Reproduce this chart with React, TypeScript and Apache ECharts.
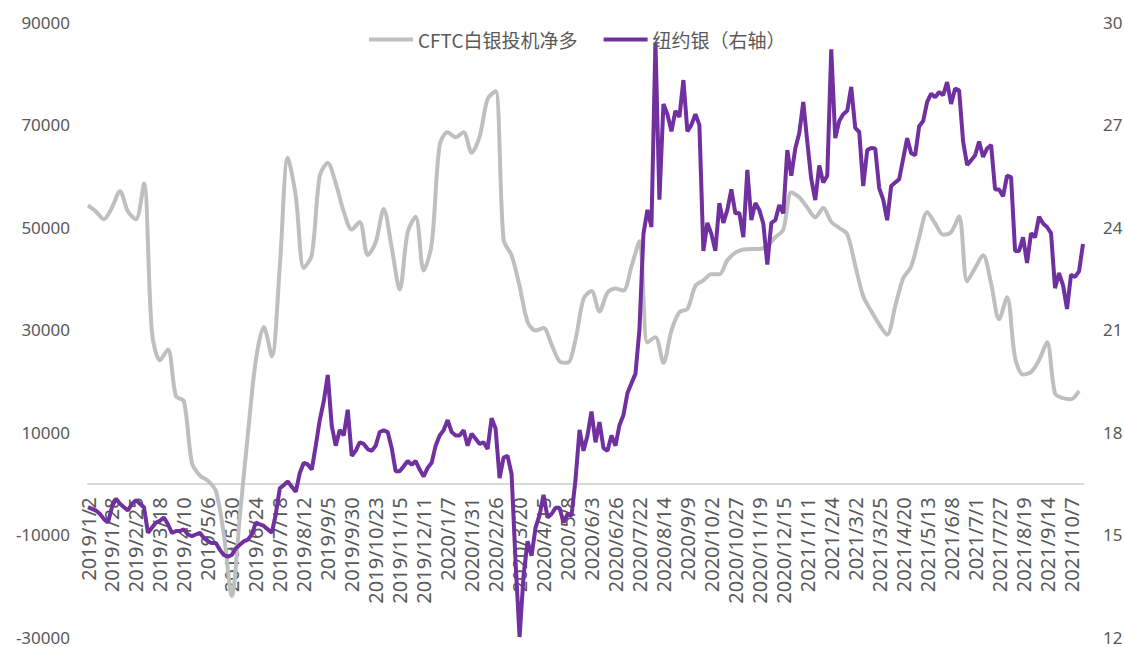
import React, { useEffect, useRef } from "react";
import * as echarts from "echarts";

const tickLabels = [
  "2019/1/2", "2019/1/28", "2019/2/25", "2019/3/18", "2019/4/10", "2019/5/6", "2019/5/30",
  "2019/6/24", "2019/7/18", "2019/8/12", "2019/9/5", "2019/9/30", "2019/10/23", "2019/11/15",
  "2019/12/11", "2020/1/7", "2020/1/31", "2020/2/26", "2020/3/20", "2020/4/15", "2020/5/8",
  "2020/6/3", "2020/6/26", "2020/7/22", "2020/8/14", "2020/9/9", "2020/10/2", "2020/10/27",
  "2020/11/19", "2020/12/15", "2021/1/11", "2021/2/4", "2021/3/2", "2021/3/25", "2021/4/20",
  "2021/5/13", "2021/6/8", "2021/7/1", "2021/7/27", "2021/8/19", "2021/9/14", "2021/10/7",
];

// points between two labelled dates (sampling step of the category axis)
const STEP = 6;
const POINTS = 250;

// 纽约银 (right axis), sampled at every category
const silver = [
  15.8, 15.75, 15.7, 15.6, 15.45, 15.35, 15.8, 16.05, 15.9, 15.8,
  15.7, 15.9, 16.0, 15.9, 15.8, 15.05, 15.2, 15.35, 15.4, 15.5,
  15.3, 15.05, 15.1, 15.1, 15.15, 15.0, 14.95, 15.0, 15.05, 14.9,
  14.8, 14.75, 14.75, 14.55, 14.4, 14.35, 14.4, 14.6, 14.7, 14.8,
  14.85, 15.0, 15.35, 15.3, 15.25, 15.15, 15.05, 15.6, 16.35, 16.45,
  16.55, 16.4, 16.25, 16.8, 17.1, 17.05, 16.9, 17.6, 18.35, 18.9,
  19.67, 18.18, 17.6, 18.06, 17.9, 18.65, 17.3, 17.45, 17.7, 17.65,
  17.5, 17.45, 17.6, 18.0, 18.05, 18.0, 17.53, 16.85, 16.85, 17.0,
  17.15, 17.04, 17.15, 16.9, 16.7, 16.95, 17.1, 17.6, 17.9, 18.05,
  18.35, 18.0, 17.9, 17.9, 18.05, 17.6, 17.95, 17.8, 17.65, 17.7,
  17.5, 18.4, 18.1, 16.65, 17.25, 17.3, 16.77, 14.2, 12.0, 13.8,
  14.8, 14.38, 15.2, 15.57, 16.16, 15.5, 15.6, 15.78, 15.78, 15.35,
  15.6, 15.55, 16.6, 18.06, 17.45, 17.9, 18.6, 17.7, 18.29, 17.53,
  17.45, 17.9, 17.6, 18.2, 18.5, 19.14, 19.43, 19.7, 21.0, 23.8,
  24.5, 24.0, 29.4, 24.8, 27.6, 27.3, 26.8, 27.4, 27.22, 28.3,
  26.8, 26.99, 27.3, 26.99, 23.3, 24.12, 23.8, 23.3, 24.7, 24.12,
  24.5, 25.1, 24.4, 24.41, 23.7, 25.67, 24.2, 24.7, 24.5, 24.1,
  22.9, 24.12, 24.2, 24.64, 24.4, 26.25, 25.5, 26.3, 26.75, 27.66,
  26.5, 25.4, 24.79, 25.8, 25.3, 25.5, 29.2, 26.6, 27.1, 27.3,
  27.4, 28.1, 26.9, 26.78, 25.2, 26.25, 26.31, 26.3, 25.14, 24.8,
  24.2, 25.2, 25.3, 25.4, 26.0, 26.6, 26.16, 26.1, 26.95, 27.1,
  27.66, 27.9, 27.8, 27.95, 27.86, 28.24, 27.6, 28.05, 28.0, 26.5,
  25.82, 25.95, 26.1, 26.5, 26.05, 26.3, 26.4, 25.1, 25.1, 24.9,
  25.5, 25.46, 23.3, 23.3, 23.7, 22.95, 23.82, 23.7, 24.3, 24.1,
  24.0, 23.82, 22.21, 22.65, 22.3, 21.6, 22.6, 22.54, 22.7, 23.5,
];

// CFTC白银投机净多 (left axis), weekly: one value every second category
const cftc = [
  54200, 53000, 51500, 53800, 57000, 53000, 51500, 58500, 29500, 24000,
  26100, 17000, 16000, 4000, 1500, 500, -1500, -10000, -22000, -6400,
  9500, 24000, 30500, 24800, 42300, 63500, 56000, 42000, 44500, 60000,
  62500, 58500, 53000, 49500, 51000, 44500, 47000, 53500, 46000, 37800,
  49000, 52000, 41500, 46600, 66000, 68500, 67500, 68500, 64500, 67600,
  75000, 76500, 47500, 44500, 38500, 31500, 29800, 30300, 27100, 23800,
  23500, 28000, 36000, 37500, 33500, 37200, 38000, 37600, 42300, 47200,
  27500, 28500, 23500, 29800, 33400, 34000, 38500, 39600, 40800, 40800,
  43500, 45000, 45600, 45700, 45700, 46300, 48000, 49500, 56800, 55800,
  53800, 51900, 53700, 51000, 49800, 48600, 42500, 36500, 33600, 31000,
  29000, 34500, 40000, 42300, 48000, 52900, 50700, 48500, 49000, 52100,
  39400, 42000, 44500, 39000, 32000, 36300, 24500, 21200, 21700, 24000,
  27500, 17500, 16600, 16400, 18000,
];

const leftTicks = { min: -30000, max: 90000, interval: 20000 };
const rightTicks = { min: 12, max: 30, interval: 3 };

const seriesNames = ["CFTC白银投机净多", "纽约银（右轴）"];

const GRID_TOP = 22;
const GRID_BOTTOM = 10;
const CHART_H = 647;

export default function App() {
  const ref = useRef<HTMLDivElement>(null);

  useEffect(() => {
    document.body.style.margin = "0";
    if (!ref.current) return;
    const chart = echarts.init(ref.current, null, { renderer: "svg" });

    const categories: string[] = [];
    for (let k = 0; k < POINTS; k++) {
      const base = tickLabels[Math.min(Math.floor(k / STEP), tickLabels.length - 1)];
      categories.push(k % STEP === 0 && k / STEP < tickLabels.length ? base : `${base}#${k}`);
    }
    const cftcData = categories.map((_, k) =>
      k % 2 === 0 && k / 2 < cftc.length ? cftc[k / 2] : null
    );

    // distance from the grid's bottom edge up to the left axis' zero line
    const plotH = CHART_H - GRID_TOP - GRID_BOTTOM;
    const zeroUp = (plotH * (0 - leftTicks.min)) / (leftTicks.max - leftTicks.min);

    const grey = "#595959";
    chart.setOption({
      animation: false,
      backgroundColor: "#ffffff",
      grid: {
        left: 88,
        right: 42,
        top: GRID_TOP,
        bottom: GRID_BOTTOM,
        containLabel: false,
        outerBoundsMode: "none",
      },
      legend: {
        data: seriesNames,
        left: 364,
        top: 25,
        icon: "rect",
        itemWidth: 44,
        itemHeight: 4,
        itemGap: 26,
        textStyle: { color: grey, fontSize: 19, fontFamily: "Noto Sans CJK SC" },
      },
      xAxis: {
        type: "category",
        data: categories,
        boundaryGap: false,
        offset: -zeroUp,
        axisLine: { onZero: false, lineStyle: { color: "#D9D9D9", width: 2 } },
        axisTick: { show: false },
        axisLabel: {
          rotate: 90,
          margin: 14,
          color: grey,
          fontSize: 20,
          fontFamily: "Noto Sans",
          interval: (index: number) => index % STEP === 0 && index / STEP < tickLabels.length,
        },
        splitLine: { show: false },
      },
      yAxis: [
        {
          type: "value",
          ...leftTicks,
          axisLine: { show: false },
          axisTick: { show: false },
          splitLine: { show: false },
          axisLabel: {
            color: grey,
            fontSize: 17,
            fontFamily: "Noto Sans",
            margin: 18,
            formatter: (v: number) => String(v),
          },
        },
        {
          type: "value",
          position: "right",
          ...rightTicks,
          axisLine: { show: false },
          axisTick: { show: false },
          splitLine: { show: false },
          axisLabel: {
            color: grey,
            fontSize: 17,
            fontFamily: "Noto Sans",
            margin: 20,
            formatter: (v: number) => String(v),
          },
        },
      ],
      series: [
        {
          name: seriesNames[0],
          type: "line",
          yAxisIndex: 0,
          data: cftcData,
          connectNulls: true,
          smooth: 0.3,
          showSymbol: false,
          lineStyle: { color: "#BFBFBF", width: 4 },
          itemStyle: { color: "#BFBFBF" },
          z: 2,
        },
        {
          name: seriesNames[1],
          type: "line",
          yAxisIndex: 1,
          data: silver,
          showSymbol: false,
          lineStyle: { color: "#7030A0", width: 4 },
          itemStyle: { color: "#7030A0" },
          z: 3,
        },
      ],
    });

    return () => chart.dispose();
  }, []);

  return <div ref={ref} style={{ width: 1125, height: CHART_H }} />;
}
